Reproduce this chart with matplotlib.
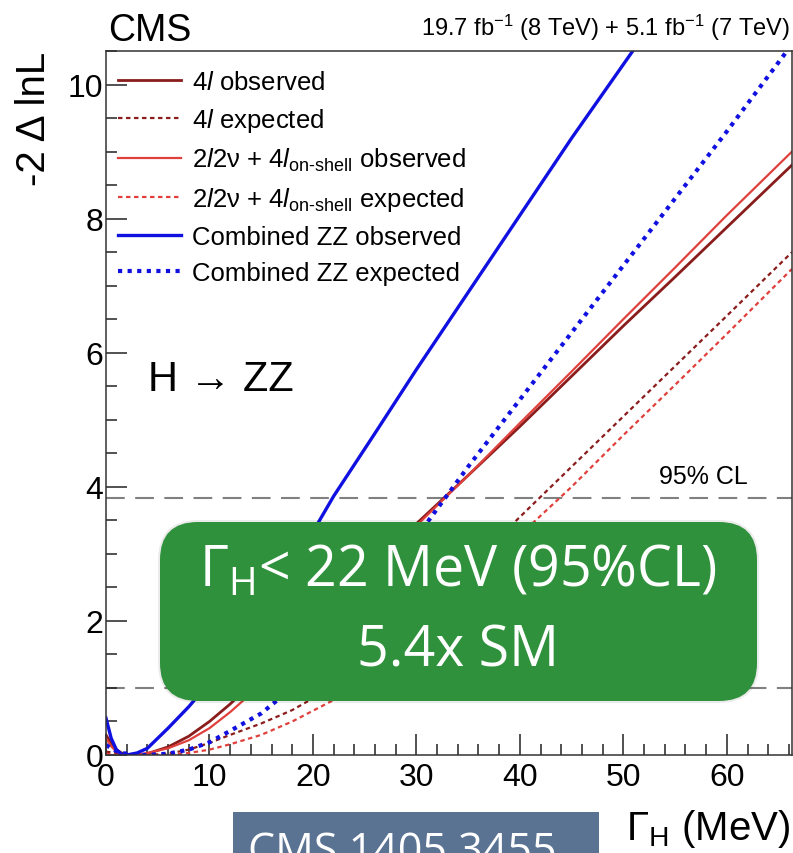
import matplotlib
matplotlib.use("Agg")
import matplotlib.pyplot as plt
from matplotlib.patches import FancyBboxPatch
from matplotlib.ticker import MultipleLocator

plt.rcParams['font.family'] = ['Liberation Sans', 'DejaVu Sans']
plt.rcParams['mathtext.fontset'] = 'custom'
plt.rcParams['mathtext.rm'] = 'Liberation Sans'
plt.rcParams['mathtext.it'] = 'Liberation Sans:italic'
plt.rcParams['mathtext.sf'] = 'Open Sans'

# Gamma_H grid (MeV) and -2 delta lnL for each scan
gamma = [0, 0.5, 1, 1.5, 2, 3, 4, 6, 8, 10, 12, 15, 18, 22, 26, 30, 35, 40, 45, 50, 55, 60, 66.3]
obs_4l = [0.3, 0.17, 0.08, 0.03, 0.01, 0.0, 0.02, 0.12, 0.28, 0.5, 0.76, 1.2, 1.68, 2.3, 2.9,
          3.45, 4.17, 4.9, 5.65, 6.4, 7.13, 7.87, 8.8]
exp_4l = [0.05, 0.04, 0.03, 0.02, 0.01, 0.0, 0.0, 0.02, 0.08, 0.18, 0.3, 0.47, 0.67, 1.02, 1.52,
          2.08, 2.8, 3.55, 4.3, 5.05, 5.8, 6.55, 7.5]
obs_2l2v = [0.25, 0.13, 0.05, 0.01, 0.0, 0.0, 0.03, 0.1, 0.22, 0.4, 0.64, 1.05, 1.52, 2.17, 2.8,
            3.42, 4.17, 4.95, 5.72, 6.5, 7.27, 8.05, 9.0]
exp_2l2v = [0.02, 0.01, 0.0, 0.0, 0.0, 0.0, 0.0, 0.0, 0.03, 0.08, 0.16, 0.3, 0.5, 0.82, 1.3,
            1.85, 2.55, 3.28, 4.0, 4.77, 5.52, 6.28, 7.25]
obs_comb = [0.55, 0.25, 0.08, 0.01, 0.0, 0.03, 0.1, 0.4, 0.72, 1.08, 1.5, 2.15, 2.8, 3.86, 4.8,
            5.75, 6.9, 8.05, 9.2, 10.3, 11.4, 12.5, 13.9]
exp_comb = [0.15, 0.1, 0.06, 0.03, 0.02, 0.0, 0.0, 0.02, 0.08, 0.19, 0.36, 0.62, 1.0, 1.65, 2.4,
            3.25, 4.3, 5.3, 6.3, 7.3, 8.3, 9.3, 10.6]
cl_lines = [1.0, 3.84]

dark_red = '#8a1c1c'
red = '#e0403c'
blue = '#1010e0'

fig = plt.figure(figsize=(7.93, 8.54), dpi=100)
ax = fig.add_axes([106/793, 98/854, 686/793, 704/854])

for y in cl_lines:
    ax.axhline(y, color='#808080', lw=1.5, ls=(0, (9, 5)), zorder=1)

ax.plot(gamma, obs_4l, color=dark_red, lw=2.0, label=r'4$l$ observed')
ax.plot(gamma, exp_4l, color=dark_red, lw=1.6, ls=(0, (2, 1.6)), label=r'4$l$ expected')
ax.plot(gamma, obs_2l2v, color=red, lw=1.6, label=r'2$l$2ν + 4$l_{\mathrm{on\text{-}shell}}$ observed')
ax.plot(gamma, exp_2l2v, color=red, lw=1.6, ls=(0, (2, 1.6)), label=r'2$l$2ν + 4$l_{\mathrm{on\text{-}shell}}$ expected')
ax.plot(gamma, obs_comb, color=blue, lw=2.4, label='Combined ZZ observed')
ax.plot(gamma, exp_comb, color=blue, lw=3.0, ls=(0, (1, 1.3)), label='Combined ZZ expected')

ax.set_xlim(0, 66.3)
ax.set_ylim(0, 10.5)
ax.xaxis.set_major_locator(MultipleLocator(10))
ax.xaxis.set_minor_locator(MultipleLocator(2))
ax.yaxis.set_major_locator(MultipleLocator(2))
ax.yaxis.set_minor_locator(MultipleLocator(0.5))
ax.tick_params(which='both', direction='in', width=1.1, colors='#222222', labelcolor='black')
ax.tick_params(which='major', length=15)
ax.tick_params(which='minor', length=8)
ax.tick_params(axis='y', labelsize=23, pad=2)
ax.tick_params(axis='x', labelsize=23, pad=5)
for s in ax.spines.values():
    s.set_linewidth(1.1)
    s.set_color('#333333')

leg = ax.legend(loc='upper left', bbox_to_anchor=(0.003, 0.988), frameon=False, fontsize=18.5,
                handlelength=2.45, handletextpad=0.43, labelspacing=0.47, borderaxespad=0)

fig.text(108/793, 1 - 31/854, 'CMS', fontsize=27, va='center', ha='left')
fig.text(790/793, 1 - 28/854, r'19.7 fb$^{-1}$ (8 TeV) + 5.1 fb$^{-1}$ (7 TeV)', fontsize=17,
         va='center', ha='right')
fig.text(148/793, 1 - 380/854, 'H → ZZ', fontsize=30, va='center', ha='left')
ax.text(0.936, 3.98, '95% CL', transform=ax.get_yaxis_transform(), fontsize=18, ha='right', va='bottom')

fig.text(15/793, 1 - 52/854, '-2 Δ lnL', fontsize=29, rotation=90, ha='left', va='top')
fig.text(790/793, 1 - 850/854, r'$\Gamma_{\mathrm{H}}$ (MeV)', fontsize=29, ha='right', va='bottom')

# green summary box with a soft shadow
shadow = FancyBboxPatch((1.58, 1.50), 6.01, 1.83, boxstyle='round,pad=0,rounding_size=0.4',
                        transform=fig.dpi_scale_trans, facecolor='#000000', alpha=0.08,
                        edgecolor='none', zorder=4)
fig.add_artist(shadow)
box = FancyBboxPatch((1.60, 1.52), 5.97, 1.79, boxstyle='round,pad=0,rounding_size=0.38',
                     transform=fig.dpi_scale_trans, facecolor='#2f913c', edgecolor='none', zorder=5)
fig.add_artist(box)
fig.text(458/793, 1 - 572/854, r'$\mathsf{\Gamma_{H}}$< 22 MeV (95%CL)', family=['Open Sans', 'DejaVu Sans'],
         fontsize=40, color='white', ha='center', va='center', zorder=6)
fig.text(458/793, 1 - 652/854, '5.4x SM', family=['Open Sans', 'DejaVu Sans'],
         fontsize=40, color='white', ha='center', va='center', zorder=6)

# grey reference tag at the bottom, its text runs off the lower edge
tag = FancyBboxPatch((2.33, -0.2), 3.66, 0.61, boxstyle='square,pad=0',
                     transform=fig.dpi_scale_trans, facecolor='#5b7393', edgecolor='none', zorder=5)
fig.add_artist(tag)
fig.text(248/793, 1 - 864/854, 'CMS 1405.3455', family=['Open Sans', 'DejaVu Sans'],
         fontsize=31, color='white', ha='left', va='baseline', zorder=6)

fig.savefig('out.png', dpi=100)
